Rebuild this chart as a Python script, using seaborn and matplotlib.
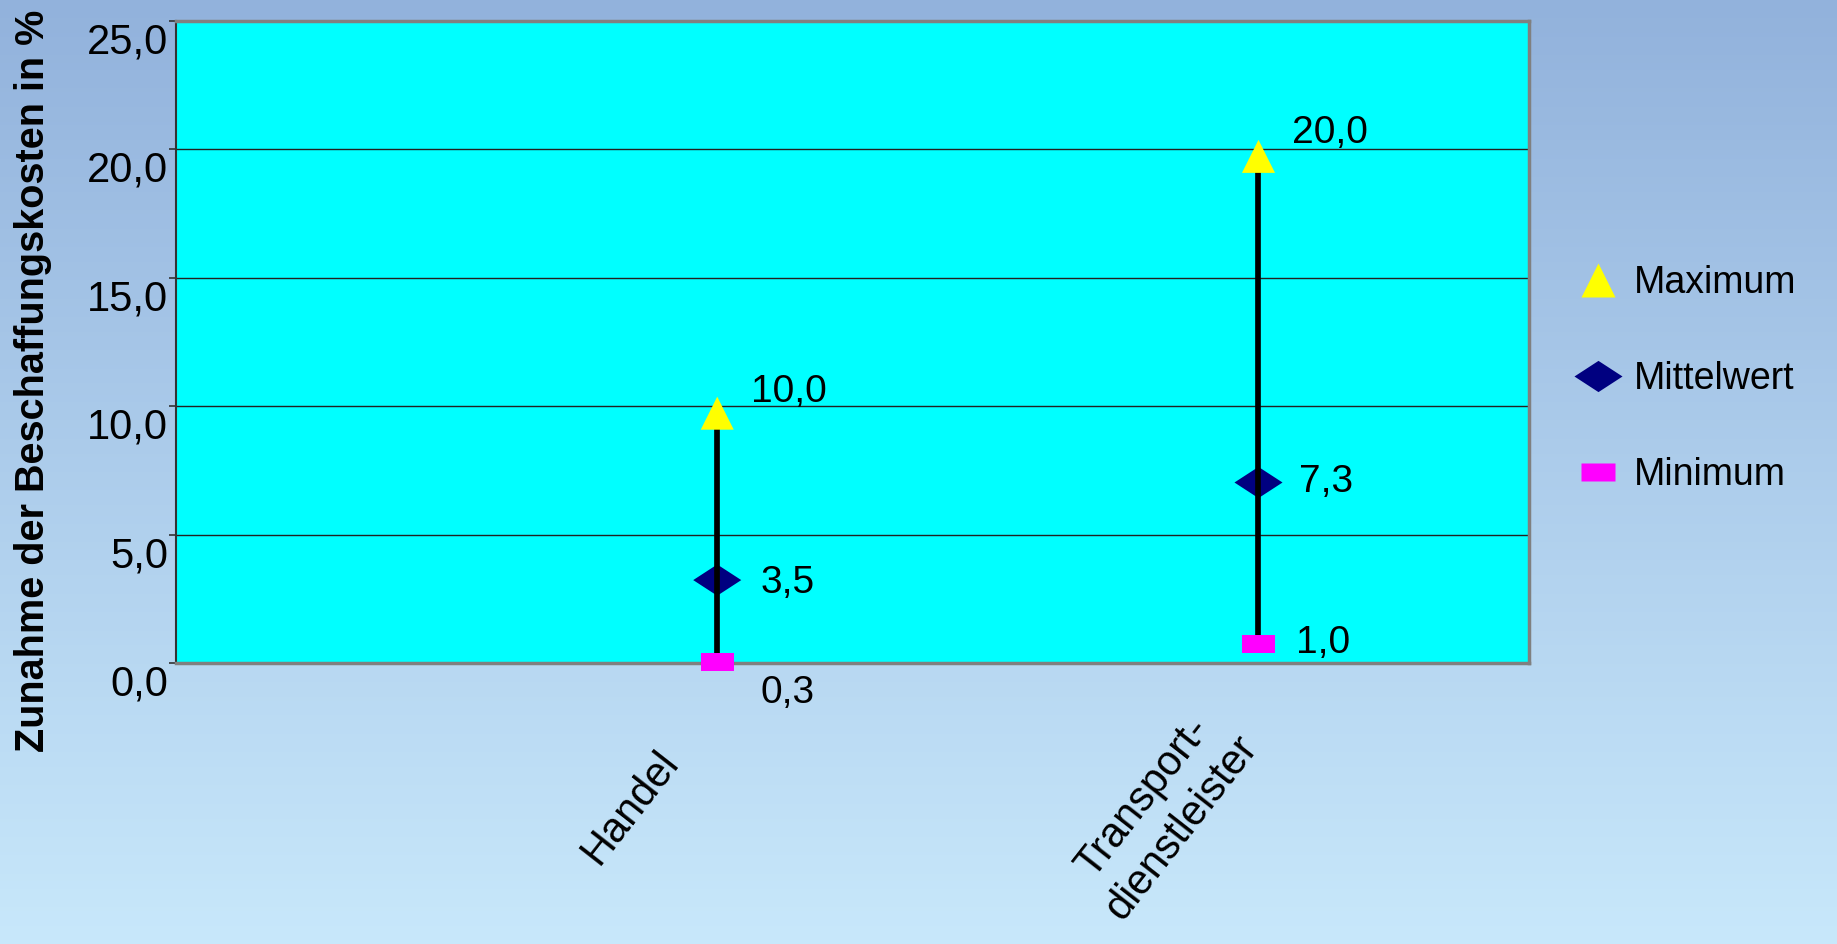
import numpy as np
import pandas as pd
import seaborn as sns
import matplotlib.pyplot as plt
from matplotlib.ticker import FuncFormatter, MultipleLocator
from matplotlib.colors import LinearSegmentedColormap
from matplotlib.lines import Line2D
import matplotlib.transforms as mtransforms

# data
categories = ['Handel', 'Transport-\ndienstleister']
maximum = [10.0, 20.0]
mittelwert = [3.5, 7.3]
minimum = [0.3, 1.0]

sns.set_theme(style='white')
plt.rcParams['font.family'] = ['Liberation Sans', 'DejaVu Sans']
plt.rcParams['text.color'] = 'black'
plt.rcParams['xtick.color'] = 'black'
plt.rcParams['ytick.color'] = 'black'

fig = plt.figure(figsize=(18.37, 9.44), dpi=100)

# background gradient
bg = fig.add_axes([0, 0, 1, 1], zorder=-10)
grad_cmap = LinearSegmentedColormap.from_list('bg', ['#92b2dc', '#c8e8fb'])
bg.imshow(np.linspace(0, 1, 256).reshape(-1, 1), aspect='auto', cmap=grad_cmap,
          extent=[0, 1, 0, 1])
bg.axis('off')

ax = fig.add_axes([0.0958, 0.2977, 0.7366, 0.6801])
ax.set_facecolor('#00ffff')

df = pd.DataFrame({'Kategorie': categories, 'Maximum': maximum,
                   'Mittelwert': mittelwert, 'Minimum': minimum})
pos = np.arange(len(categories))

diamond = [(-1, 0), (0, 0.65), (1, 0), (0, -0.65)]
rect = [(-1, -0.55), (1, -0.55), (1, 0.55), (-1, 0.55)]

# the original draws its markers a few pixels low
shift = ax.transData + mtransforms.ScaledTranslation(0, -0.07, fig.dpi_scale_trans)

sns.scatterplot(x=pos, y=df['Mittelwert'], ax=ax, marker=diamond, s=1197,
                color='#000080', edgecolor='none', zorder=3, legend=False, clip_on=False)
ax.vlines(pos, df['Minimum'], df['Maximum'], color='black', lw=4.1, zorder=4,
          transform=shift, clip_on=False)
sns.scatterplot(x=pos, y=df['Maximum'], ax=ax, marker='^', s=566,
                color='#ffff00', edgecolor='none', zorder=5, legend=False, clip_on=False)
sns.scatterplot(x=pos, y=df['Minimum'], ax=ax, marker=rect, s=566,
                color='#ff00ff', edgecolor='none', zorder=5, legend=False, clip_on=False)
for coll in ax.collections:
    if hasattr(coll, 'get_offsets') and len(coll.get_offsets()) == len(pos):
        coll.set_offset_transform(shift)

fmt = lambda v: f'{v:.1f}'.replace('.', ',')

# data labels
max_offsets = [(24, 10), (24, 12)]
mean_offsets = [(31, -7), (29, -5)]
min_offsets = [(31, -27), (27, -4)]
for i in range(len(categories)):
    ax.annotate(fmt(df['Maximum'][i]), (pos[i], df['Maximum'][i]), xytext=max_offsets[i],
                textcoords='offset points', fontsize=28, va='center', ha='left', zorder=6)
    ax.annotate(fmt(df['Mittelwert'][i]), (pos[i], df['Mittelwert'][i]), xytext=mean_offsets[i],
                textcoords='offset points', fontsize=28, va='center', ha='left', zorder=6)
    ax.annotate(fmt(df['Minimum'][i]), (pos[i], df['Minimum'][i]), xytext=min_offsets[i],
                textcoords='offset points', fontsize=28, va='center', ha='left',
                zorder=6, annotation_clip=False)

ax.set_xlim(-1, 1.5)
ax.set_ylim(0, 25)
ax.yaxis.set_major_locator(MultipleLocator(5))
ax.yaxis.set_major_formatter(FuncFormatter(lambda v, p: fmt(v)))
ax.grid(axis='y', color='#222222', lw=1)
ax.set_axisbelow(True)

ax.set_xticks(pos)
ax.set_xticklabels(categories, rotation=52, ha='right', va='center',
                   rotation_mode='anchor', multialignment='center', fontsize=30,
                   linespacing=1.3)
ax.tick_params(axis='x', length=0, pad=62)
ax.tick_params(axis='y', length=5, width=1.2, color='#333333', direction='out',
               labelsize=30, pad=0.5, left=True)
xlab_shift = [(-46, -6), (-28, 24)]
for lab, (dx, dy) in zip(ax.get_xticklabels(), xlab_shift):
    lab.set_transform(lab.get_transform() +
                      mtransforms.ScaledTranslation(dx / 100, dy / 100, fig.dpi_scale_trans))
for lab in ax.get_yticklabels():
    lab.set_transform(lab.get_transform() +
                      mtransforms.ScaledTranslation(0, -0.17, fig.dpi_scale_trans))

for side in ['top', 'right', 'bottom']:
    ax.spines[side].set_color('#808080')
    ax.spines[side].set_linewidth(2.5)
ax.spines['left'].set_color('#333333')
ax.spines['left'].set_linewidth(1.5)

ax.set_xlabel('')
ax.set_ylabel('')
fig.text(0.018, 0.597, 'Zunahme der Beschaffungskosten in %', rotation=90,
         fontsize=28.5, fontweight='bold', ha='center', va='center')

handles = [
    Line2D([], [], ls='none', marker='^', ms=23.8, color='#ffff00', mec='none'),
    Line2D([], [], ls='none', marker=diamond, ms=34.6, color='#000080', mec='none'),
    Line2D([], [], ls='none', marker=rect, ms=23.8, color='#ff00ff', mec='none'),
]
fig.legend(handles, ['Maximum', 'Mittelwert', 'Minimum'], loc='center left',
           bbox_to_anchor=(0.8547, 0.598), frameon=False, fontsize=27,
           labelspacing=1.6, handlelength=1.5, handletextpad=0.2,
           borderaxespad=0, borderpad=0)

fig.savefig('out.png', dpi=100)
